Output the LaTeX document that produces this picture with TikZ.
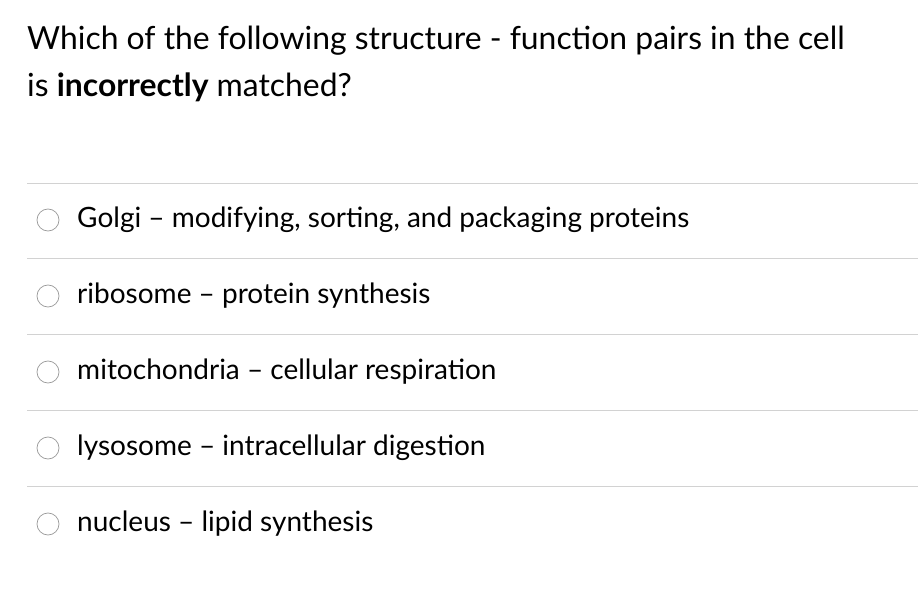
\documentclass[tikz,border=0pt]{standalone}
\usepackage{fontspec}
\setmainfont{Lato}
\begin{document}
\begin{tikzpicture}[x=0.03cm,y=-0.03cm,
  question/.style = {anchor=base west, inner sep=0pt, font=\fontsize{27.2}{32}\selectfont},
  answer/.style = {anchor=base west, inner sep=0pt, font=\fontsize{23.9}{28}\selectfont},
  radio/.style = {draw=gray!80, circle, minimum size=0.66cm, inner sep=0pt, line width=0.6pt},
  rule/.style = {draw=gray!35, line width=0.8pt}]
  \useasboundingbox (0,0) rectangle (918,594);
  \node[question] (q1) at (27,50) {Which of the following structure - function pairs in the cell};
  \node[question] (q2) at (27,97) {is \textbf{incorrectly} matched?};

  \foreach \y in {183,258,334,410,486}
    \draw[rule] (27,\y) -- (918,\y);

  \node[radio] (r1) at (48,220) {};
  \node[radio] (r2) at (48,296) {};
  \node[radio] (r3) at (48,372) {};
  \node[radio] (r4) at (48,448) {};
  \node[radio] (r5) at (48,524) {};

  \node[answer] (a1) at (77,227) {Golgi -- modifying, sorting, and packaging proteins};
  \node[answer] (a2) at (77,303) {ribosome -- protein synthesis};
  \node[answer] (a3) at (77,379) {mitochondria -- cellular respiration};
  \node[answer] (a4) at (77,455) {lysosome -- intracellular digestion};
  \node[answer] (a5) at (77,531) {nucleus -- lipid synthesis};
\end{tikzpicture}
\end{document}
